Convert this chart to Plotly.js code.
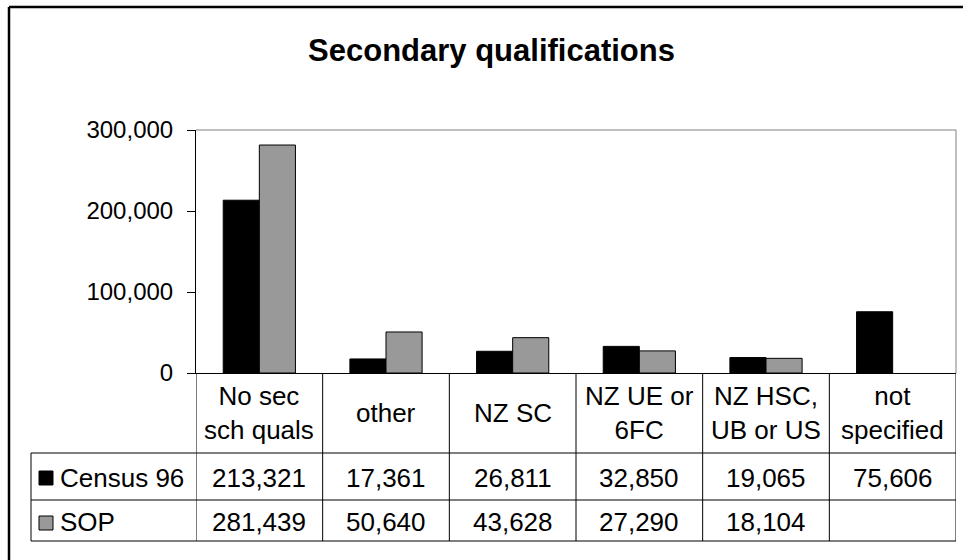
<!DOCTYPE html>
<html>
<head>
<meta charset="utf-8">
<script src="https://cdn.plot.ly/plotly-3.0.1.min.js"></script>
<style>html,body{margin:0;padding:0;background:#fff;}#chart{width:963px;height:560px;}</style>
</head>
<body>
<div id="chart"></div>
<script>
// ---- data ----
var categories = ["No sec sch quals", "other", "NZ SC", "NZ UE or 6FC", "NZ HSC, UB or US", "not specified"];
var categoryLabels = ["No sec<br>sch quals", "other", "NZ SC", "NZ UE or<br>6FC", "NZ HSC,<br>UB or US", "not<br>specified"];
var seriesNames = ["Census 96", "SOP"];
var census96 = [213321, 17361, 26811, 32850, 19065, 75606];
var sop = [281439, 50640, 43628, 27290, 18104, null];
var yTicks = [0, 100000, 200000, 300000];
var chartTitle = "Secondary qualifications";

// ---- geometry (pixels) ----
var W = 963, H = 560;
var L = 196, R = 956, T = 130, B = 373;
function px(x) { return (x - L) / (R - L); }
function py(y) { return (B - y) / (B - T); }

var FONT = "Liberation Sans, Arial, sans-serif";
var colors = ["#000000", "#999999"];
var xIdx = categories.map(function (c, i) { return i; });

var traces = [
  { type: "bar", name: seriesNames[0], x: xIdx, y: census96,
    marker: { color: colors[0], line: { color: "#000", width: 1 } }, hoverinfo: "skip" },
  { type: "bar", name: seriesNames[1], x: xIdx, y: sop,
    marker: { color: colors[1], line: { color: "#000", width: 1 } }, hoverinfo: "skip" }
];

var shapes = [];
var annotations = [];
function lineP(x0, y0, x1, y1, color, w) {
  shapes.push({ type: "line", xref: "paper", yref: "paper", x0: x0, y0: y0, x1: x1, y1: y1,
    line: { color: color, width: w } });
}
// outer frame (extends past the right/bottom edges)
lineP(px(9), py(7), px(W + 5), py(7), "#000", 2.5);
lineP(px(9), py(7), px(9), py(H + 5), "#000", 2.5);
// plot area frame (gray top/right)
lineP(0, 1, 1, 1, "#808080", 1);
lineP(1, 0, 1, 1, "#808080", 1);

// data table
var yHead = py(453), yRow1 = py(500), yRow2 = py(541);
var xLeft = px(31);
lineP(xLeft, yHead, 1, yHead, "#000", 1);
lineP(xLeft, yRow1, 1, yRow1, "#000", 1);
lineP(xLeft, yRow2, 1, yRow2, "#000", 1);
lineP(xLeft, yHead, xLeft, yRow2, "#000", 1);
for (var i = 0; i <= categories.length; i++) {
  shapes.push({ type: "line", xref: "x", yref: "paper", x0: i - 0.5, x1: i - 0.5, y0: 0, y1: yRow2,
    line: { color: "#000", width: 1 } });
}
// legend keys
shapes.push({ type: "rect", xref: "paper", yref: "paper", x0: px(39), x1: px(53), y0: py(471), y1: py(485),
  fillcolor: colors[0], line: { color: "#000", width: 1 } });
shapes.push({ type: "rect", xref: "paper", yref: "paper", x0: px(39), x1: px(53), y0: py(516), y1: py(530),
  fillcolor: colors[1], line: { color: "#000", width: 1 } });

var tfont = { family: FONT, size: 26, color: "#000" };
var yHeadC = py(413), yR1C = py(478), yR2C = py(522);
function fmt(v) { return (v === null || v === undefined) ? "" : v.toLocaleString("en-US"); }
categories.forEach(function (c, i) {
  annotations.push({ xref: "x", yref: "paper", x: i, y: yHeadC, text: categoryLabels[i], showarrow: false,
    xanchor: "center", yanchor: "middle", font: tfont, align: "center" });
  annotations.push({ xref: "x", yref: "paper", x: i, y: yR1C, text: fmt(census96[i]), showarrow: false,
    xanchor: "center", yanchor: "middle", font: tfont });
  annotations.push({ xref: "x", yref: "paper", x: i, y: yR2C, text: fmt(sop[i]), showarrow: false,
    xanchor: "center", yanchor: "middle", font: tfont });
});
annotations.push({ xref: "paper", yref: "paper", x: px(58), y: yR1C, text: seriesNames[0], showarrow: false,
  xanchor: "left", yanchor: "middle", font: tfont });
annotations.push({ xref: "paper", yref: "paper", x: px(58), y: yR2C, text: seriesNames[1], showarrow: false,
  xanchor: "left", yanchor: "middle", font: tfont });

var layout = {
  width: W, height: H,
  margin: { l: L, r: W - R, t: T, b: H - B, pad: 0 },
  paper_bgcolor: "#fff", plot_bgcolor: "#fff",
  showlegend: false,
  barmode: "group", bargap: 0.43, bargroupgap: 0,
  title: { text: "<b>" + chartTitle + "</b>", font: { family: FONT, size: 31, color: "#000" },
    xref: "paper", x: px(491.5), xanchor: "center", yref: "container", y: 1 - 50 / H, yanchor: "middle" },
  xaxis: { type: "linear", range: [-0.5, categories.length - 0.5], showticklabels: false, ticks: "",
    showgrid: false, zeroline: false, showline: true, linecolor: "#000", linewidth: 1, fixedrange: true },
  yaxis: { range: [0, 300000], tickvals: yTicks, tickformat: ",d", ticks: "outside", ticklen: 8,
    tickcolor: "#000", tickwidth: 1, showline: true, linecolor: "#000", linewidth: 1,
    showgrid: false, zeroline: false, ticklabelstandoff: 9,
    tickfont: { family: FONT, size: 24, color: "#000" }, fixedrange: true },
  shapes: shapes,
  annotations: annotations,
  font: { family: FONT, color: "#000" }
};

Plotly.newPlot("chart", traces, layout, { displayModeBar: false, staticPlot: true });
</script>
</body>
</html>
